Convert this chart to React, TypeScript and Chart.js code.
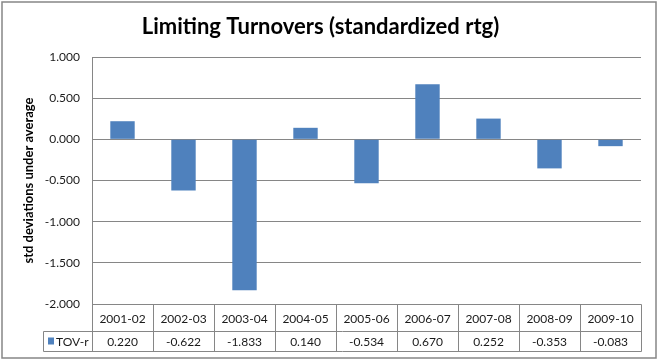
import React, { useEffect, useRef } from "react";
import { Chart, registerables } from "chart.js";

Chart.register(...registerables);

const categories = ["2001-02", "2002-03", "2003-04", "2004-05", "2005-06", "2006-07", "2007-08", "2008-09", "2009-10"];
const tovR = [0.22, -0.622, -1.833, 0.14, -0.534, 0.67, 0.252, -0.353, -0.083];
const seriesName = "TOV-r";
const yMin = -2;
const yMax = 1;
const yStep = 0.5;
const titleText = "Limiting Turnovers (standardized rtg)";
const yAxisTitle = "std deviations under average";

const FONT = "Lato, 'Open Sans', sans-serif";
const BAR = "#4F81BD";
const GRID = "#868686";
const TEXT = "#1a1a1a";

const framePlugin = {
  id: "frame",
  beforeDraw(chart: any) {
    const ctx = chart.ctx;
    ctx.save();
    ctx.fillStyle = "#ffffff";
    ctx.fillRect(0, 0, chart.width, chart.height);
    ctx.strokeStyle = GRID;
    ctx.lineWidth = 1.5;
    ctx.strokeRect(2, 2, chart.width - 4, chart.height - 4);
    ctx.restore();
  },
};

const tablePlugin = {
  id: "dataTable",
  afterDraw(chart: any) {
    const ctx = chart.ctx;
    const area = chart.chartArea;
    const xs = chart.scales.x;
    const n = categories.length;
    const colW = (area.right - area.left) / n;
    const top = Math.round(area.bottom) + 0.5;
    const row1 = top + 27;
    const row2 = row1 + 20;
    const legendLeft = 43.5;
    const px = (v: number) => Math.round(v) + 0.5;

    ctx.save();
    ctx.strokeStyle = GRID;
    ctx.lineWidth = 1;
    ctx.beginPath();
    ctx.moveTo(px(area.left), top);
    ctx.lineTo(px(area.right), top);
    ctx.moveTo(legendLeft, row1);
    ctx.lineTo(px(area.right), row1);
    ctx.moveTo(legendLeft, row2);
    ctx.lineTo(px(area.right), row2);
    for (let i = 0; i <= n; i++) {
      const xx = px(area.left + i * colW);
      ctx.moveTo(xx, top);
      ctx.lineTo(xx, row2);
    }
    ctx.moveTo(legendLeft, row1);
    ctx.lineTo(legendLeft, row2);
    ctx.stroke();

    ctx.fillStyle = TEXT;
    ctx.font = `12px ${FONT}`;
    ctx.textAlign = "center";
    ctx.textBaseline = "middle";
    for (let i = 0; i < n; i++) {
      const cx = xs.getPixelForValue(i);
      ctx.fillText(categories[i], cx, (top + row1) / 2 + 1);
      ctx.fillText(tovR[i].toFixed(3), cx, (row1 + row2) / 2 + 1);
    }
    // legend cell
    ctx.fillStyle = BAR;
    ctx.fillRect(48, row1 + 6, 6, 7);
    ctx.fillStyle = TEXT;
    ctx.textAlign = "left";
    ctx.fillText(seriesName, 56, (row1 + row2) / 2 + 1);
    ctx.restore();
  },
};

export default function App() {
  const ref = useRef<HTMLCanvasElement | null>(null);

  useEffect(() => {
    if (!ref.current) return;
    const chart = new Chart(ref.current, {
      type: "bar",
      data: {
        labels: categories,
        datasets: [
          {
            label: seriesName,
            data: tovR,
            backgroundColor: BAR,
            borderWidth: 0,
            barPercentage: 0.4,
            categoryPercentage: 1,
          },
        ],
      },
      options: {
        responsive: false,
        animation: false,
        devicePixelRatio: 1,
        layout: { padding: { top: 0, left: 0, right: 17, bottom: 56 } },
        plugins: {
          legend: { display: false },
          tooltip: { enabled: false },
          title: {
            display: true,
            text: titleText,
            color: "#000",
            font: { family: FONT, size: 22, weight: "bold" },
            padding: { top: 13.8, bottom: 16.8 },
          },
        },
        scales: {
          x: { display: false },
          y: {
            min: yMin,
            max: yMax,
            afterFit: (s: any) => {
              s.width = 92;
            },
            ticks: {
              stepSize: yStep,
              padding: 12,
              color: TEXT,
              font: { family: FONT, size: 12 },
              callback: (v: any) => Number(v).toFixed(3),
            },
            grid: { color: GRID, drawTicks: false, lineWidth: 1 },
            border: { display: true, color: GRID },
            title: {
              display: true,
              text: yAxisTitle,
              color: "#000",
              font: { family: FONT, size: 13, weight: "bold" },
              padding: { top: 21, bottom: 0 },
            },
          },
        },
      },
      plugins: [framePlugin, tablePlugin],
    });
    return () => chart.destroy();
  }, []);

  return (
    <div style={{ position: "absolute", left: 0, top: 0, width: 658, height: 360 }}>
      <canvas ref={ref} width={658} height={360} style={{ display: "block" }} />
    </div>
  );
}
